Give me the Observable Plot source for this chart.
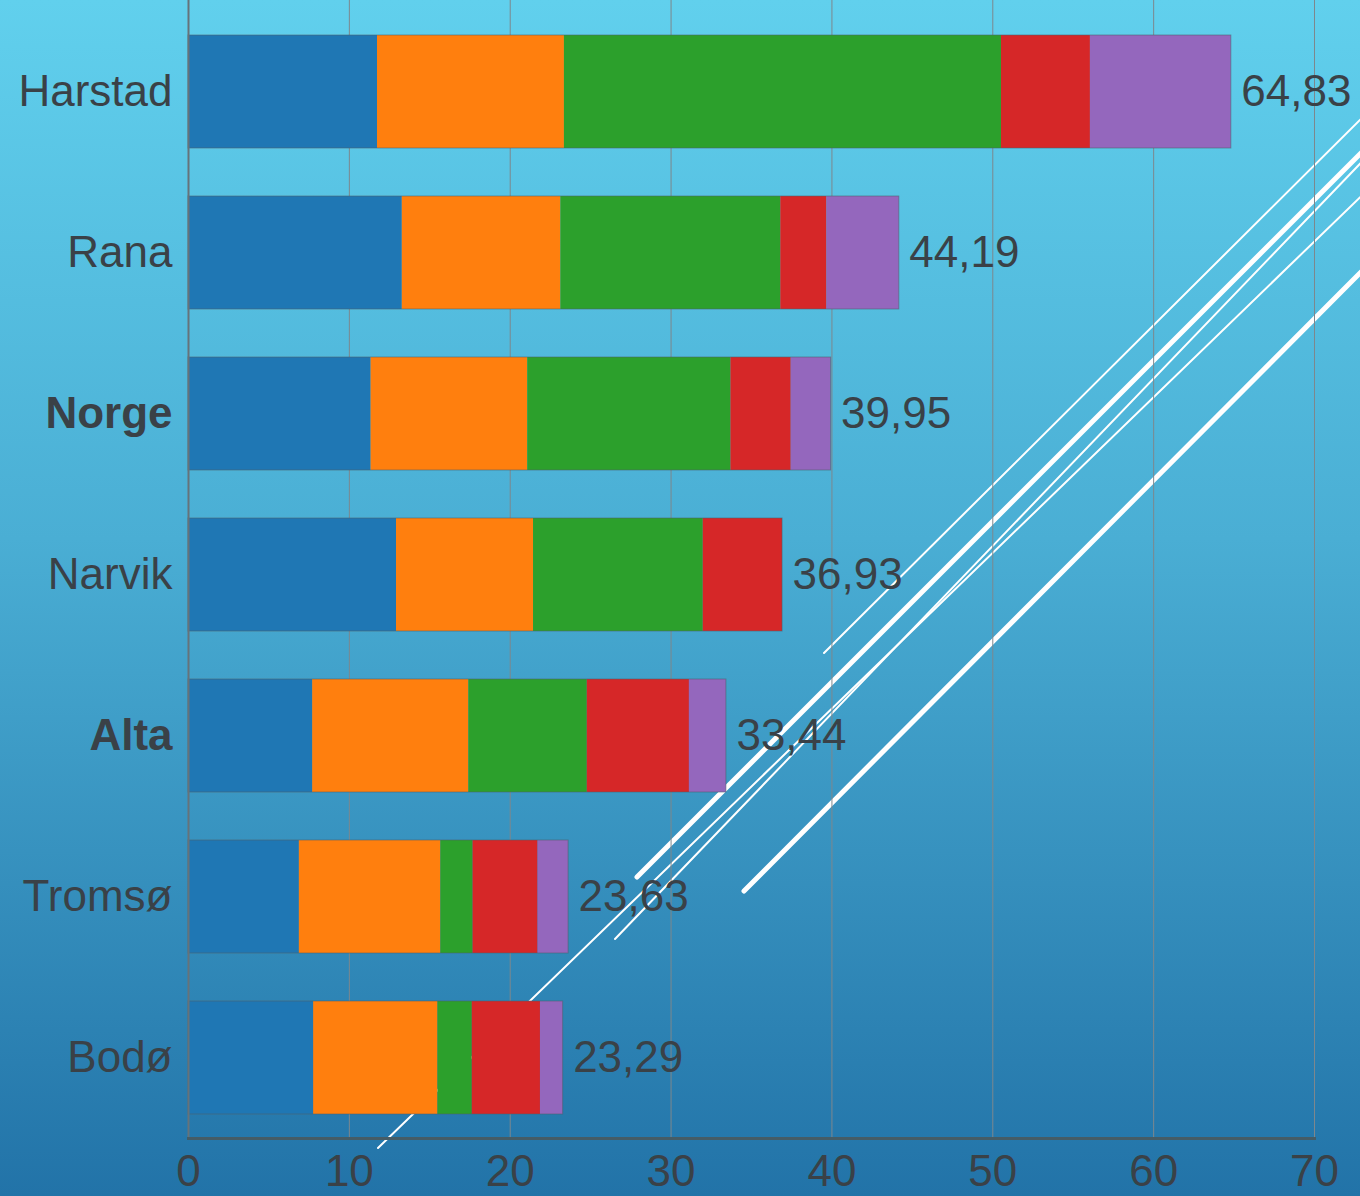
<!DOCTYPE html>
<html>
<head>
<meta charset="utf-8">
<script src="https://cdn.jsdelivr.net/npm/d3@7"></script>
<script src="https://cdn.jsdelivr.net/npm/@observablehq/plot@0.6"></script>
<style>
html, body { margin: 0; padding: 0; }
#wrap { position: relative; width: 1360px; height: 1196px; overflow: hidden;
  background: linear-gradient(to bottom, #61d0ed 0%, #4aaed4 45%, #2273a8 100%); }
#deco { position: absolute; left: 0; top: 0; }
#chart { position: absolute; left: 0; top: 0; }
</style>
</head>
<body>
<div id="wrap">
  <svg id="deco" width="1360" height="1196" aria-hidden="true">
    <g stroke="#ffffff" fill="none" stroke-linecap="round">
      <line x1="824" y1="653" x2="1380" y2="100" stroke-width="2"/>
      <line x1="637" y1="877" x2="1380" y2="134" stroke-width="5"/>
      <line x1="615" y1="939" x2="1380" y2="143" stroke-width="2"/>
      <line x1="378" y1="1148" x2="1380" y2="178" stroke-width="2"/>
      <line x1="744" y1="891" x2="1380" y2="253" stroke-width="5"/>
    </g>
  </svg>
  <div id="chart"></div>
</div>
<script>
// ---- data ----
const categories = ["Harstad", "Rana", "Norge", "Narvik", "Alta", "Tromsø", "Bodø"];
const boldCategories = ["Norge", "Alta"];
const seriesNames = ["Serie 1", "Serie 2", "Serie 3", "Serie 4", "Serie 5"];
const serie1 = [11.75, 13.29, 11.35, 12.93, 7.72, 6.89, 7.78];
const serie2 = [11.62, 9.86, 9.74, 8.52, 9.71, 8.80, 7.73];
const serie3 = [27.17, 13.67, 12.63, 10.55, 7.36, 2.00, 2.13];
const serie4 = [5.53, 2.87, 3.75, 4.93, 6.35, 4.04, 4.24];
const serie5 = [8.76, 4.50, 2.48, 0, 2.30, 1.90, 1.41];
const totals = [64.83, 44.19, 39.95, 36.93, 33.44, 23.63, 23.29];
const xTicks = [0, 10, 20, 30, 40, 50, 60, 70];
const colors = ["#1f77b4", "#ff7f0e", "#2ca02c", "#d62728", "#9467bd"];

// ---- build tables ----
const seriesValues = [serie1, serie2, serie3, serie4, serie5];
const rows = [];
categories.forEach((c, i) => {
  seriesValues.forEach((vals, k) => rows.push({city: c, series: seriesNames[k], value: vals[i]}));
});
const totalRows = categories.map((c, i) => ({city: c, total: totals[i]}));
const fmt = v => v.toFixed(2).replace(".", ",");
const textColor = "#3a4147";

const chart = Plot.plot({
  width: 1360,
  height: 1196,
  marginLeft: 188,
  marginRight: 46,
  marginTop: 0,
  marginBottom: 58,
  style: {background: "transparent", fontFamily: "'Liberation Sans', Arial, sans-serif", fontSize: "44px", color: textColor, overflow: "visible"},
  x: {domain: [0, 70], label: null},
  y: {domain: categories, range: [11, 1138], paddingInner: 0.3, paddingOuter: 0.15, axis: null, label: null},
  color: {domain: seriesNames, range: colors},
  marks: [
    Plot.ruleX(xTicks.slice(1), {stroke: "#7d878d", strokeWidth: 1}),
    Plot.barX(rows, Plot.stackX({x: "value", y: "city", fill: "series"})),
    Plot.barX(totalRows, {x: "total", y: "city", fill: "none", stroke: "#4f5f6a", strokeOpacity: 0.55, strokeWidth: 1}),
    Plot.ruleX([0], {stroke: "#66737a", strokeWidth: 2}),
    Plot.frame({anchor: "bottom", stroke: "#455c66", strokeWidth: 3}),
    Plot.axisX({ticks: xTicks, tickSize: 0, tickPadding: 16, label: null, tickFormat: d => String(d), fontSize: 44, fill: textColor}),
    Plot.text(totalRows, {x: "total", y: "city", text: d => fmt(d.total), textAnchor: "start", dx: 10, fill: textColor}),
    Plot.text(categories.filter(c => !boldCategories.includes(c)), {y: d => d, text: d => d, frameAnchor: "left", textAnchor: "end", dx: -16, fill: textColor}),
    Plot.text(categories.filter(c => boldCategories.includes(c)), {y: d => d, text: d => d, frameAnchor: "left", textAnchor: "end", dx: -16, fill: textColor, fontWeight: "bold"})
  ]
});
document.getElementById("chart").appendChild(chart);
</script>
</body>
</html>
